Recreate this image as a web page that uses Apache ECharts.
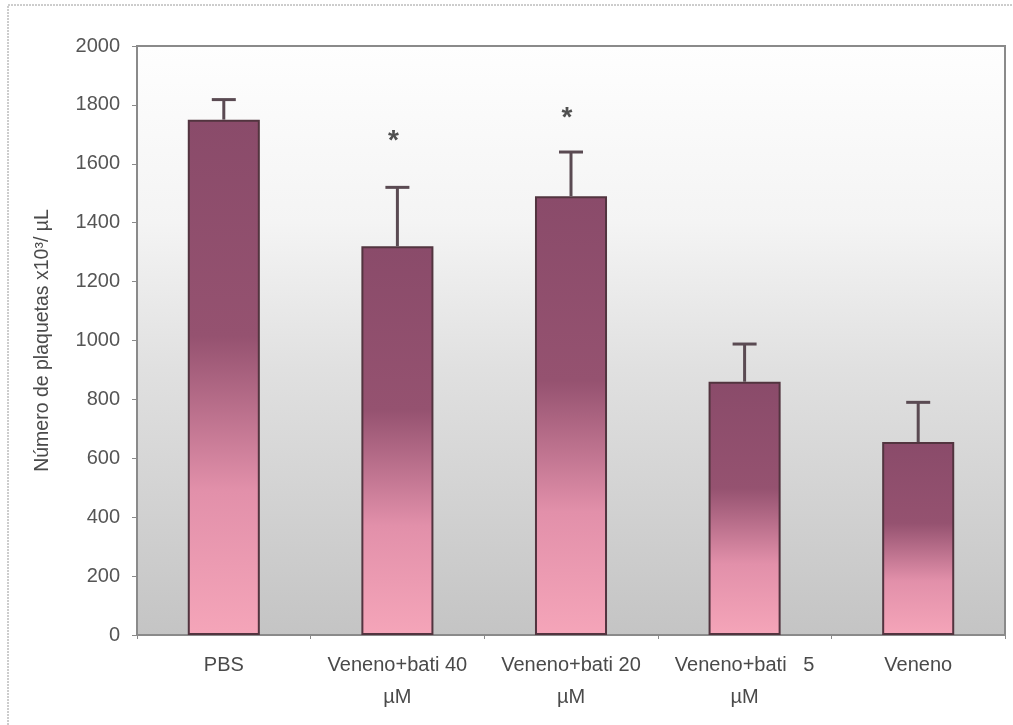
<!DOCTYPE html>
<html>
<head>
<meta charset="utf-8">
<script src="https://cdn.jsdelivr.net/npm/echarts@6/dist/echarts.min.js"></script>
<style>
html,body{margin:0;padding:0;background:#fff;}
#chart{width:1013px;height:725px;}
</style>
</head>
<body>
<div id="chart"></div>
<script>
const categories = ['PBS', 'Veneno+bati 40\nµM', 'Veneno+bati 20\nµM', 'Veneno+bati   5\nµM', 'Veneno'];
const means = [1750, 1320, 1490, 860, 655];
const errors = [68, 200, 150, 128, 135];
const sigMarks = [null, 1675, 1755, null, null];
const yTicks = [0, 200, 400, 600, 800, 1000, 1200, 1400, 1600, 1800, 2000];

const chart = echarts.init(document.getElementById('chart'), null, {renderer: 'canvas'});
const font = '"Liberation Sans", Arial, sans-serif';

chart.setOption({
  animation: false,
  backgroundColor: '#ffffff',
  graphic: [{
    type: 'rect',
    shape: {x: 8, y: 5, width: 1010, height: 730},
    style: {fill: 'none', stroke: '#9a9a9a', lineWidth: 1, lineDash: [2, 1]},
    silent: true, z: -1
  }],
  grid: {
    left: 137, right: 8, top: 46, bottom: 90,
    show: true,
    borderColor: '#8a8a8a', borderWidth: 2,
    backgroundColor: {
      type: 'linear', x: 0, y: 0, x2: 0, y2: 1,
      colorStops: [
        {offset: 0, color: '#fefefe'},
        {offset: 0.3, color: '#f4f4f4'},
        {offset: 0.55, color: '#e0e0e0'},
        {offset: 1, color: '#c4c4c4'}
      ]
    }
  },
  xAxis: {
    type: 'category',
    data: categories,
    axisLine: {lineStyle: {color: '#8a8a8a', width: 2}},
    axisTick: {show: true, length: 4, lineStyle: {color: '#8a8a8a'}},
    axisLabel: {color: '#4a4a4a', fontSize: 20, fontFamily: font, margin: 14, lineHeight: 32, interval: 0}
  },
  yAxis: {
    type: 'value',
    min: 0, max: 2000, interval: 200,
    name: 'Número de plaquetas x10³/ µL',
    nameLocation: 'middle',
    nameGap: 84,
    nameTextStyle: {color: '#4a4a4a', fontSize: 19.5, fontFamily: font},
    axisLine: {show: true, lineStyle: {color: '#8a8a8a', width: 2}},
    axisTick: {show: true, length: 5, lineStyle: {color: '#8a8a8a'}},
    splitLine: {show: false},
    axisLabel: {
      color: '#555555', fontSize: 20, fontFamily: font, margin: 17,
      formatter: v => yTicks.includes(v) ? String(v) : ''
    }
  },
  series: [
    {
      type: 'bar',
      data: means,
      barWidth: '41.5%',
      itemStyle: {
        borderColor: '#52343f', borderWidth: 2,
        color: {
          type: 'linear', x: 0, y: 0, x2: 0, y2: 1,
          colorStops: [
            {offset: 0, color: '#8a4b6a'},
            {offset: 0.42, color: '#955270'},
            {offset: 0.72, color: '#e290aa'},
            {offset: 1, color: '#f5a5b9'}
          ]
        }
      },
      z: 2
    },
    {
      type: 'custom',
      data: means.map((m, i) => [i, m, errors[i]]),
      renderItem: function (params, api) {
        const i = api.value(0);
        const m = api.value(1);
        const e = api.value(2);
        const base = api.coord([i, m]);
        const top = api.coord([i, m + e]);
        const half = 12;
        return {
          type: 'group',
          children: [
            {type: 'line', shape: {x1: base[0], y1: base[1], x2: top[0], y2: top[1]},
             style: {stroke: '#5a4a52', lineWidth: 3}},
            {type: 'line', shape: {x1: top[0] - half, y1: top[1], x2: top[0] + half, y2: top[1]},
             style: {stroke: '#5a4a52', lineWidth: 3}}
          ]
        };
      },
      z: 3
    },
    {
      type: 'custom',
      data: sigMarks.map((v, i) => [i, v]).filter(d => d[1] !== null),
      renderItem: function (params, api) {
        const p = api.coord([api.value(0), api.value(1)]);
        return {
          type: 'text',
          x: p[0] - 4, y: p[1],
          style: {text: '*', fill: '#505050', font: 'bold 28px ' + font, textAlign: 'center', textVerticalAlign: 'middle'}
        };
      },
      z: 4
    }
  ]
});
</script>
</body>
</html>
